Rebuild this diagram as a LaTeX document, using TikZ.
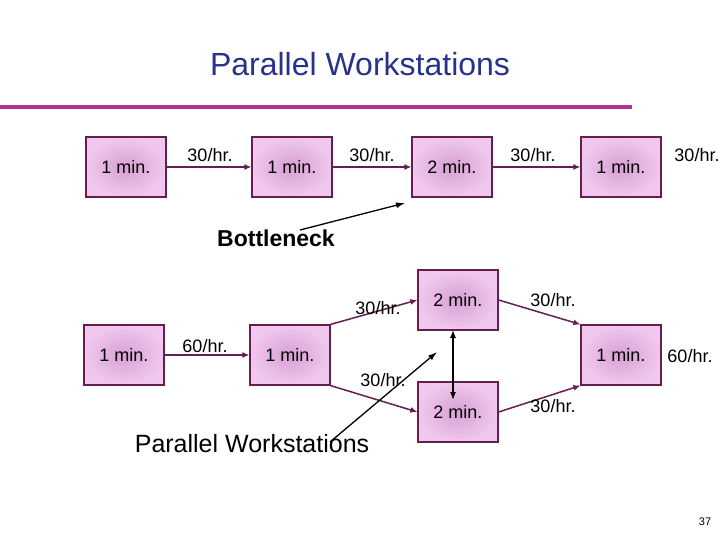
\documentclass[tikz,border=0pt]{standalone}
\usepackage{fontspec}
\setmainfont{Liberation Sans}
\usetikzlibrary{arrows.meta}
\definecolor{bord}{RGB}{100,30,80}
\definecolor{pinkin}{RGB}{215,160,210}
\definecolor{pinkout}{RGB}{240,200,238}
\definecolor{titleblue}{RGB}{40,50,140}
\definecolor{rule}{RGB}{175,50,150}
\tikzset{
 station/.style={draw=bord,line width=1.2pt,inner color=pinkin,outer color=pinkout,minimum width=80pt,minimum height=60pt,font=\fontsize{18}{22}\selectfont},
 flow/.style={draw=bord,line width=1.5pt,-{Latex[length=7pt,width=6pt]}},
 lbl/.style={font=\fontsize{18}{22}\selectfont},
 pointer/.style={draw=black,line width=1.3pt,-{Latex[length=9pt,width=6pt]}}
}
\begin{document}
\begin{tikzpicture}[x=1pt,y=-1pt]
\useasboundingbox (0,0) rectangle (720,540);
\node[font=\fontsize{32}{36}\selectfont,text=titleblue] (title) at (360,64) {Parallel Workstations};
\fill[rule] (0,105) rectangle (632,109);
% top row
\node[station] (t1) at (126,167) {1 min.};
\node[station] (t2) at (292,167) {1 min.};
\node[station] (t3) at (452,167) {2 min.};
\node[station] (t4) at (621,167) {1 min.};
\draw[flow] (t1) -- (t2);
\draw[flow] (t2) -- (t3);
\draw[flow] (t3) -- (t4);
\node[lbl] (l1) at (210,155) {30/hr.};
\node[lbl] (l2) at (372,155) {30/hr.};
\node[lbl] (l3) at (533,155) {30/hr.};
\node[lbl] (l4) at (697,155) {30/hr.};
\node[font=\fontsize{23}{27}\selectfont\bfseries] (bn) at (276,238) {Bottleneck};
\coordinate (bnend) at (405,203);
\draw[pointer] (300,230) -- (bnend);
% bottom
\node[station] (b1) at (124,355) {1 min.};
\node[station] (b2) at (290,355) {1 min.};
\node[station] (b3) at (458,300) {2 min.};
\node[station] (b4) at (458,412) {2 min.};
\node[station] (b5) at (621,355) {1 min.};
\draw[flow] (b1) -- (b2);
\draw[flow] (b2.north east) -- (b3.west);
\draw[flow] (b2.south east) -- (b4.west);
\draw[flow] (b3.east) -- (b5.north west);
\draw[flow] (b4.east) -- (b5.south west);
\node[lbl] (m1) at (205,346) {60/hr.};
\node[lbl] (m2) at (378,308) {30/hr.};
\node[lbl] (m3) at (383,380) {30/hr.};
\node[lbl] (m4) at (553,300) {30/hr.};
\node[lbl] (m5) at (553,406) {30/hr.};
\node[lbl] (m6) at (690,356) {60/hr.};
\draw[line width=1.3pt,{Latex[length=8pt,width=6pt]}-{Latex[length=8pt,width=6pt]}] (453,330) -- (453,400);
\node[font=\fontsize{25}{29}\selectfont] (pw) at (252,444) {Parallel Workstations};
\coordinate (pwend) at (437,352);
\draw[pointer] (330,442) -- (pwend);
\node[font=\fontsize{11}{13}\selectfont] (pg) at (705,522) {37};
\end{tikzpicture}
\end{document}
